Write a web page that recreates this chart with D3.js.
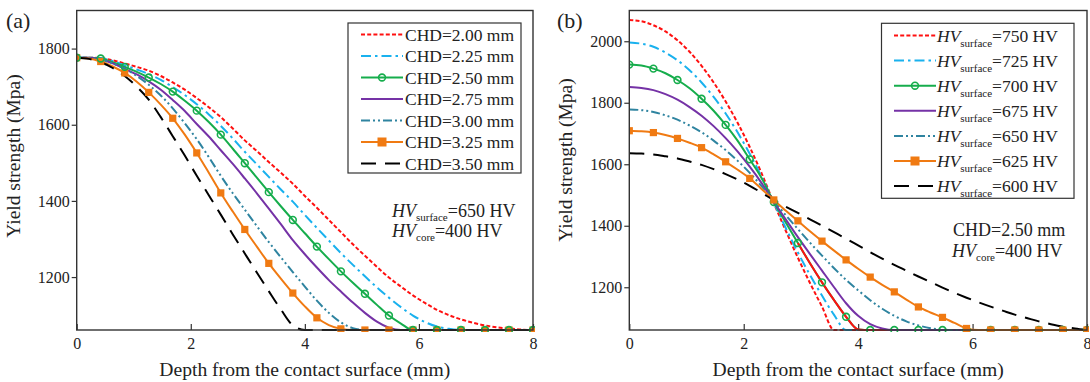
<!DOCTYPE html>
<html><head><meta charset="utf-8">
<script src="https://cdn.jsdelivr.net/npm/d3@7"></script>
<style>
body{margin:0;background:#fff}
svg{display:block}
text{font-family:"Liberation Serif","Times New Roman",serif;fill:#222}
</style>
</head><body>
<svg id="chart" width="1090" height="382"></svg>
<script>
// ---------- data ----------
const depth = [0,0.211,0.421,0.632,0.842,1.053,1.263,1.474,1.684,1.895,2.105,2.316,2.526,2.737,2.947,3.158,3.368,3.579,3.789,4.0,4.211,4.421,4.632,4.842,5.053,5.263,5.474,5.684,5.895,6.105,6.316,6.526,6.737,6.947,7.158,7.368,7.579,7.789,8.0];

// panel (a): HV_surface = 650 HV, HV_core = 400 HV
const chd200 = [1776,1776,1775,1769,1761,1752,1742,1728,1711,1692,1670,1646,1620,1590,1559,1531,1502,1474,1445,1413,1382,1350,1318,1286,1256,1227,1199,1175,1152,1132,1114,1100,1089,1080,1073,1068,1065,1062,1061];
const chd225 = [1776,1776,1775,1767,1756,1745,1733,1718,1699,1678,1654,1627,1597,1564,1529,1496,1463,1430,1398,1363,1329,1296,1263,1232,1202,1173,1146,1121,1099,1082,1070,1064,1061,1061,1061,1061,1061,1061,1061];
const chd250 = [1776,1776,1774,1764,1752,1739,1724,1707,1687,1663,1637,1607,1574,1537,1499,1461,1423,1386,1350,1315,1280,1247,1215,1185,1156,1127,1099,1078,1061,1061,1061,1061,1061,1061,1061,1061,1061,1061,1061];
const chd275 = [1776,1776,1772,1761,1747,1732,1714,1692,1665,1636,1602,1569,1533,1497,1459,1420,1380,1339,1297,1260,1225,1192,1162,1133,1106,1083,1067,1061,1061,1061,1061,1061,1061,1061,1061,1061,1061,1061,1061];
const chd300 = [1776,1775,1771,1761,1747,1728,1705,1677,1643,1604,1562,1515,1466,1420,1377,1334,1292,1252,1213,1175,1138,1106,1081,1066,1061,1061,1061,1061,1061,1061,1061,1061,1061,1061,1061,1061,1061,1061,1061];
const chd325 = [1776,1774,1766,1753,1736,1713,1685,1653,1617,1574,1526,1474,1421,1372,1325,1280,1236,1196,1158,1123,1093,1074,1064,1061,1061,1061,1061,1061,1061,1061,1061,1061,1061,1061,1061,1061,1061,1061,1061];
const chd350 = [1776,1773,1764,1749,1728,1700,1666,1620,1570,1519,1466,1415,1364,1312,1262,1212,1163,1115,1073,1061,1061,1061,1061,1061,1061,1061,1061,1061,1061,1061,1061,1061,1061,1061,1061,1061,1061,1061,1061];

// panel (b): CHD = 2.50 mm, HV_core = 400 HV
const hv750 = [2069,2065,2052,2032,2003,1966,1920,1866,1804,1734,1656,1569,1474,1383,1296,1214,1137,1061,1061,1061,1061,1061,1061,1061,1061,1061,1061,1061,1061,1061,1061,1061,1061,1061,1061,1061,1061,1061,1061];
const hv725 = [1996,1992,1982,1963,1938,1906,1866,1819,1765,1703,1634,1558,1475,1392,1313,1240,1173,1110,1061,1061,1061,1061,1061,1061,1061,1061,1061,1061,1061,1061,1061,1061,1061,1061,1061,1061,1061,1061,1061];
const hv700 = [1924,1921,1911,1896,1874,1847,1813,1774,1728,1676,1616,1554,1477,1410,1344,1278,1216,1158,1104,1063,1061,1061,1061,1061,1061,1061,1061,1061,1061,1061,1061,1061,1061,1061,1061,1061,1061,1061,1061];
const hv675 = [1851,1848,1841,1828,1810,1786,1758,1724,1685,1641,1592,1538,1478,1420,1363,1308,1254,1200,1148,1107,1080,1066,1061,1061,1061,1061,1061,1061,1061,1061,1061,1061,1061,1061,1061,1061,1061,1061,1061];
const hv650 = [1778,1776,1770,1759,1745,1726,1704,1677,1646,1611,1572,1528,1481,1434,1389,1345,1303,1262,1224,1190,1158,1130,1107,1089,1076,1067,1062,1061,1061,1061,1061,1061,1061,1061,1061,1061,1061,1061,1061];
const hv625 = [1709,1707,1703,1695,1684,1670,1654,1632,1608,1582,1554,1519,1484,1449,1416,1382,1350,1319,1289,1260,1233,1208,1185,1160,1136,1118,1102,1084,1066,1061,1061,1061,1061,1061,1061,1061,1061,1061,1061];
const hv600 = [1636,1635,1632,1626,1619,1609,1598,1584,1568,1550,1530,1507,1483,1462,1442,1421,1400,1379,1358,1336,1314,1293,1273,1254,1235,1217,1199,1182,1166,1151,1137,1124,1111,1100,1089,1080,1072,1066,1061];
// red solid overlay drawn along the lower part of the 700 HV curve
const overlayDepth = [2.947,3.158,3.368,3.579,3.789,4.0,4.211,4.421,4.632,4.842,5.053,5.263,5.474,5.684,5.895];
const overlayValue = [1344,1278,1216,1158,1104,1063,1061,1061,1061,1061,1061,1061,1061,1061,1061];

const xTicks = [0,2,4,6,8];
const yTicksA = [1200,1400,1600,1800];
const yTicksB = [1200,1400,1600,1800,2000];
const labelsA = ["CHD=2.00 mm","CHD=2.25 mm","CHD=2.50 mm","CHD=2.75 mm","CHD=3.00 mm","CHD=3.25 mm","CHD=3.50 mm"];
const labelsB = ["750","725","700","675","650","625","600"];

// ---------- styles ----------
const styles = [
  {color:"#ff1010", dash:"4,2.2", marker:null},
  {color:"#19b1ee", dash:"10,4,2.5,4", marker:null},
  {color:"#16ad4c", dash:null, marker:"circle"},
  {color:"#7532a6", dash:null, marker:null},
  {color:"#2f84a0", dash:"9,3,2,3,2,3", marker:null},
  {color:"#f07a12", dash:null, marker:"square"},
  {color:"#000000", dash:"15,9", marker:null}
];

const svg = d3.select("#chart");
const FONT = '"Liberation Serif","Times New Roman",serif';

function drawPanel(p){
  const x = d3.scaleLinear().domain([0,8]).range([p.x0,p.x1]);
  const y = d3.scaleLinear().domain(p.yDomain).range([p.y1,p.y0]);
  const g = svg.append("g");

  const clipId = "clip"+p.id;
  g.append("clipPath").attr("id",clipId).append("rect")
    .attr("x",p.x0).attr("y",p.y0-2).attr("width",p.x1-p.x0+2).attr("height",p.y1-p.y0+4);

  // axes
  const yAxis = d3.axisLeft(y).tickValues(p.yTicks).tickSize(5).tickPadding(2).tickFormat(d3.format("d"));
  const ya = g.append("g").attr("transform",`translate(${p.x0},0)`).call(yAxis);
  ya.select(".domain").remove();
  ya.selectAll("line").attr("stroke","#333").attr("stroke-width",1.2);
  ya.selectAll("text").attr("font-family",FONT).attr("font-size",16).attr("fill","#333");

  const xAxis = d3.axisTop(x).tickValues(xTicks).tickSize(6).tickFormat(d3.format("d"));
  const xa = g.append("g").attr("transform",`translate(0,${p.y1})`).call(xAxis);
  xa.select(".domain").remove();
  xa.selectAll("line").attr("stroke","#333").attr("stroke-width",1.2);
  xa.selectAll("text").attr("font-family",FONT).attr("font-size",16).attr("fill","#333")
    .attr("y",19).attr("dy",0);

  // lines
  const plot = g.append("g").attr("clip-path",`url(#${clipId})`);
  const line = d3.line().x(d=>x(d[0])).y(d=>y(d[1])).curve(d3.curveMonotoneX);
  p.drawOrder.forEach(i=>{
    const st = styles[i];
    const pts = depth.map((d,k)=>[d,p.series[i][k]]);
    plot.append("path").attr("d",line(pts)).attr("fill","none")
      .attr("stroke",st.color).attr("stroke-width",2)
      .attr("stroke-dasharray",st.dash);
    if(p.overlayAfter===i){
      plot.append("path").attr("d",line(overlayDepth.map((d,k)=>[d,overlayValue[k]])))
        .attr("fill","none").attr("stroke","#ff1010").attr("stroke-width",2);
    }
  });
  // markers every second sample
  p.markerOrder.forEach(i=>{
    const st = styles[i];
    const pts = depth.map((d,k)=>[d,p.series[i][k]]).filter((d,k)=>k%2===0);
    if(st.marker==="circle"){
      plot.selectAll(null).data(pts).enter().append("circle")
        .attr("cx",d=>x(d[0])).attr("cy",d=>y(d[1])).attr("r",3.4)
        .attr("fill","none").attr("stroke",st.color).attr("stroke-width",1.6);
    } else {
      plot.selectAll(null).data(pts).enter().append("rect")
        .attr("x",d=>x(d[0])-3.6).attr("y",d=>y(d[1])-3.6).attr("width",7.2).attr("height",7.2)
        .attr("fill",st.color);
    }
  });

  // frame
  g.append("rect").attr("x",p.x0).attr("y",p.y0).attr("width",p.x1-p.x0).attr("height",p.y1-p.y0)
    .attr("fill","none").attr("stroke","#333").attr("stroke-width",1.4);

  // axis titles
  g.append("text").attr("x",(p.x0+p.x1)/2).attr("y",376).attr("text-anchor","middle")
    .attr("font-size",19.6).text("Depth from the contact surface (mm)");
  g.append("text").attr("transform",`translate(${p.yTitleX},${p.yTitleY}) rotate(-90)`)
    .attr("text-anchor","middle").attr("font-size",19.5).text("Yield strength (Mpa)");
  g.append("text").attr("x",p.tagX).attr("y",28).attr("font-size",22).text(p.tag);

  // legend
  const L = p.legend;
  g.append("rect").attr("x",L.x0).attr("y",L.y0).attr("width",L.x1-L.x0).attr("height",L.y1-L.y0)
    .attr("fill","#fff").attr("stroke","#333").attr("stroke-width",1.2);
  styles.forEach((st,i)=>{
    const cy = L.first + i*L.step;
    g.append("line").attr("x1",L.sx0).attr("x2",L.sx1).attr("y1",cy).attr("y2",cy)
      .attr("stroke",st.color).attr("stroke-width",2).attr("stroke-dasharray",st.dash);
    const mx = (L.sx0+L.sx1)/2;
    if(st.marker==="circle"){
      g.append("circle").attr("cx",mx).attr("cy",cy).attr("r",3.4).attr("fill","none")
        .attr("stroke",st.color).attr("stroke-width",1.6);
    } else if(st.marker==="square"){
      g.append("rect").attr("x",mx-4.5).attr("y",cy-4.5).attr("width",9).attr("height",9).attr("fill",st.color);
    }
    L.label(g.append("text").attr("x",L.tx).attr("y",cy+6).attr("font-size",17.5), i);
  });

  p.notes(g);
}

drawPanel({
  id:"a", x0:76.7, x1:533, y0:10.5, y1:330, yDomain:[1061,1900], yTicks:yTicksA,
  series:[chd200,chd225,chd250,chd275,chd300,chd325,chd350],
  drawOrder:[0,1,2,3,4,5,6], markerOrder:[5,2], overlayAfter:null,
  yTitleX:20, yTitleY:156, tag:"(a)", tagX:6,
  legend:{x0:348,x1:521,y0:23,y1:173,first:34.5,step:21.5,sx0:361,sx1:403,tx:405,
    label:(t,i)=>t.text(labelsA[i])},
  notes:g=>{
    const t1 = g.append("text").attr("x",392).attr("y",217).attr("font-size",18);
    t1.append("tspan").attr("font-style","italic").text("HV");
    t1.append("tspan").attr("font-size",11).attr("dy",4).text("surface");
    t1.append("tspan").attr("dy",-4).text("=650 HV");
    const t2 = g.append("text").attr("x",392).attr("y",237).attr("font-size",18);
    t2.append("tspan").attr("font-style","italic").text("HV");
    t2.append("tspan").attr("font-size",11).attr("dy",4).text("core");
    t2.append("tspan").attr("dy",-4).text("=400 HV");
  }
});

drawPanel({
  id:"b", x0:629.3, x1:1087, y0:10.5, y1:330, yDomain:[1061,2100], yTicks:yTicksB,
  series:[hv750,hv725,hv700,hv675,hv650,hv625,hv600],
  drawOrder:[0,1,2,3,4,5,6], markerOrder:[2,5], overlayAfter:2,
  yTitleX:572, yTitleY:160, tag:"(b)", tagX:557,
  legend:{x0:881.5,x1:1074,y0:23.3,y1:198.3,first:35.5,step:25.1,sx0:894,sx1:936,tx:937,
    label:(t,i)=>{
      t.append("tspan").attr("font-style","italic").text("HV");
      t.append("tspan").attr("font-size",11).attr("dy",5).text("surface");
      t.append("tspan").attr("dy",-5).text("="+labelsB[i]+" HV");
    }},
  notes:g=>{
    g.append("text").attr("x",953).attr("y",236).attr("font-size",18).text("CHD=2.50 mm");
    const t2 = g.append("text").attr("x",952).attr("y",257).attr("font-size",18);
    t2.append("tspan").attr("font-style","italic").text("HV");
    t2.append("tspan").attr("font-size",11).attr("dy",4).text("core");
    t2.append("tspan").attr("dy",-4).text("=400 HV");
  }
});
</script>
</body></html>
